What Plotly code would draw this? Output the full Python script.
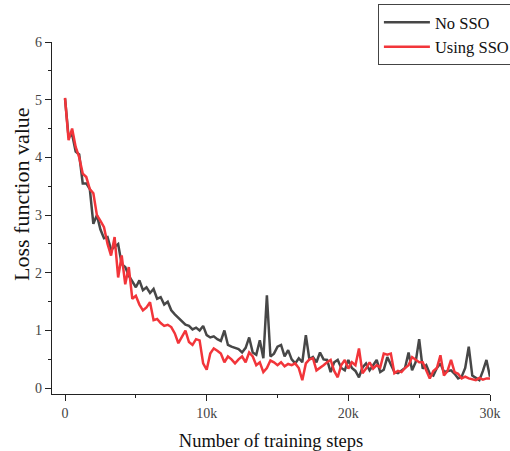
import plotly.graph_objects as go

step_size = 250
n_points = 121
steps = [i * step_size for i in range(n_points)]

no_sso = [
    5.02, 4.35, 4.40, 4.10, 4.05, 3.55, 3.55, 3.45, 2.85, 3.00,
    2.75, 2.60, 2.62, 2.40, 2.45, 2.50, 2.15, 2.10, 1.95, 1.85,
    1.75, 1.87, 1.70, 1.75, 1.65, 1.72, 1.55, 1.58, 1.45, 1.50,
    1.35, 1.28, 1.22, 1.15, 1.10, 1.08, 1.02, 1.05, 1.00, 1.08,
    0.92, 0.88, 0.90, 0.85, 0.82, 1.00, 0.75, 0.72, 0.70, 0.68,
    0.62, 0.70, 0.88, 0.62, 0.58, 0.83, 0.52, 1.61, 0.55, 0.60,
    0.72, 0.75, 0.55, 0.66, 0.50, 0.43, 0.52, 0.45, 0.92, 0.50,
    0.54, 0.45, 0.62, 0.50, 0.49, 0.28, 0.45, 0.49, 0.35, 0.31,
    0.49, 0.35, 0.30, 0.19, 0.36, 0.43, 0.31, 0.40, 0.49, 0.28,
    0.32, 0.54, 0.40, 0.28, 0.26, 0.30, 0.35, 0.62, 0.31, 0.45,
    0.85, 0.34, 0.40, 0.25, 0.22, 0.35, 0.43, 0.28, 0.30, 0.31,
    0.25, 0.17, 0.20, 0.35, 0.72, 0.22, 0.18, 0.14, 0.30, 0.49,
    0.20,
]

using_sso = [
    5.03, 4.30, 4.50, 4.18, 4.00, 3.72, 3.66, 3.45, 3.38, 3.00,
    2.90, 2.79, 2.50, 2.30, 2.62, 1.92, 2.30, 1.80, 2.10, 1.55,
    1.60, 1.45, 1.35, 1.40, 1.49, 1.18, 1.20, 1.13, 1.08, 1.10,
    1.06, 0.95, 0.78, 0.90, 1.00, 0.80, 0.75, 0.85, 0.83, 0.43,
    0.32, 0.60, 0.69, 0.65, 0.60, 0.45, 0.55, 0.50, 0.43, 0.50,
    0.55, 0.45, 0.62, 0.55, 0.40, 0.45, 0.28, 0.35, 0.48, 0.45,
    0.40, 0.45, 0.38, 0.42, 0.40, 0.43, 0.35, 0.14, 0.43, 0.50,
    0.52, 0.31, 0.35, 0.40, 0.45, 0.49, 0.30, 0.19, 0.40, 0.49,
    0.34, 0.45, 0.40, 0.69, 0.26, 0.34, 0.45, 0.34, 0.40, 0.36,
    0.60, 0.58, 0.60, 0.26, 0.30, 0.28, 0.35, 0.40, 0.54, 0.49,
    0.45, 0.45, 0.31, 0.17, 0.30, 0.35, 0.57, 0.22, 0.30, 0.49,
    0.28, 0.25, 0.17, 0.20, 0.17, 0.15, 0.14, 0.18, 0.15, 0.17,
    0.17,
]

x_tick_vals = [0, 10000, 20000, 30000]
x_tick_text = ["0", "10k", "20k", "30k"]
y_tick_vals = [0, 1, 2, 3, 4, 5, 6]

FONT = "Liberation Serif"

fig = go.Figure()
fig.add_trace(go.Scatter(x=steps, y=no_sso, mode="lines", name="No SSO",
                         line=dict(color="#474747", width=2.5)))
fig.add_trace(go.Scatter(x=steps, y=using_sso, mode="lines", name="Using SSO",
                         line=dict(color="#f2353a", width=2.5)))

fig.update_layout(
    width=510, height=451,
    margin=dict(l=52, r=20, t=42, b=57, autoexpand=False),
    paper_bgcolor="white", plot_bgcolor="white",
    font=dict(family=FONT, size=14, color="#333333"),
    showlegend=True,
    legend=dict(xref="container", yref="container",
                x=0.741, y=0.991, xanchor="left", yanchor="top",
                bordercolor="#444444", borderwidth=1, bgcolor="white",
                font=dict(family=FONT, size=16.5, color="#111111"),
                tracegroupgap=0, itemwidth=46),
    xaxis=dict(range=[-920, 30000], showgrid=False, zeroline=False,
               automargin=False,
               showline=True, linecolor="#222222", linewidth=1.3,
               tickvals=x_tick_vals, ticktext=x_tick_text,
               ticks="outside", ticklen=6, tickwidth=1.2, tickcolor="#222222",
               minor=dict(dtick=5000, tick0=0, ticks="outside", ticklen=3,
                          tickwidth=1.2, tickcolor="#222222"),
               tickfont=dict(family=FONT, size=14, color="#444444"),
               title=dict(text="Number of training steps",
                          font=dict(family=FONT, size=18.5, color="#111111"),
                          standoff=14)),
    yaxis=dict(range=[-0.1, 6], showgrid=False, zeroline=False,
               automargin=False,
               showline=True, linecolor="#222222", linewidth=1.3,
               tickvals=y_tick_vals,
               ticks="outside", ticklen=6, tickwidth=1.2, tickcolor="#222222",
               minor=dict(dtick=0.5, tick0=0, ticks="outside", ticklen=3,
                          tickwidth=1.2, tickcolor="#222222"),
               tickfont=dict(family=FONT, size=14, color="#444444")),
    annotations=[dict(text="Loss function value", textangle=-90,
                      xref="paper", yref="paper", x=-0.071, y=0.568,
                      xanchor="center", yanchor="middle", showarrow=False,
                      font=dict(family=FONT, size=22, color="#111111"))],
)

fig.write_html("out.html")
